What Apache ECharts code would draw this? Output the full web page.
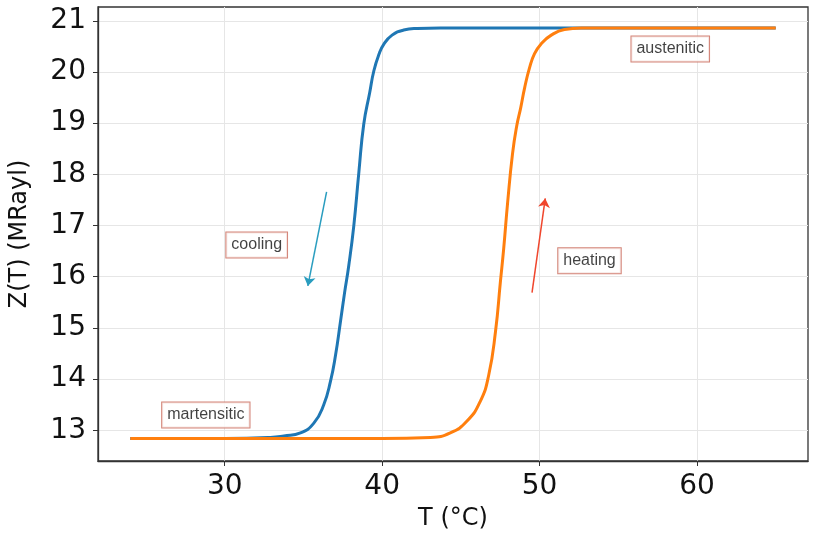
<!DOCTYPE html>
<html>
<head>
<meta charset="utf-8">
<script src="https://cdn.jsdelivr.net/npm/echarts@6/dist/echarts.min.js"></script>
<style>
  body { margin: 0; background: #fff; }
  #chart { width: 817px; height: 544px; }
</style>
</head>
<body>
<div id="chart"></div>
<script>
// cooling curve (blue)
const coolT = [24, 30, 32.9, 33.76, 34.81, 35.66, 36.29, 36.72, 37.04, 37.35, 37.6, 37.88, 38.2, 38.52, 38.83, 39.21, 39.47, 39.79, 40.1, 40.63, 41.37, 42.22, 43.7, 50, 65]
const coolZ = [12.84, 12.84, 12.86, 12.89, 12.95, 13.14, 13.5, 13.96, 14.47, 15.12, 15.66, 16.22, 17.0, 18.04, 18.98, 19.6, 20.02, 20.34, 20.54, 20.72, 20.82, 20.85, 20.86, 20.86, 20.86]
// heating curve (orange)
const heatT = [24, 40, 43.07, 44.33, 45.39, 46.24, 46.77, 47.2, 47.51, 47.72, 47.97, 48.28, 48.55, 48.8, 49.05, 49.36, 49.68, 50.1, 50.74, 51.58, 52.65, 55, 65]
const heatZ = [12.84, 12.84, 12.86, 12.95, 13.18, 13.57, 14.08, 14.93, 15.9, 16.55, 17.45, 18.4, 18.95, 19.3, 19.69, 20.08, 20.36, 20.55, 20.72, 20.83, 20.86, 20.86, 20.86]

const xTicks = [30, 40, 50, 60]
const yTicks = [13, 14, 15, 16, 17, 18, 19, 20, 21]

// text boxes: [T, Z, text]
const notes = [
  [32.03, 16.62, 'cooling'],
  [53.17, 16.31, 'heating'],
  [58.3, 20.45, 'austenitic'],
  [28.8, 13.3, 'martensitic']
]
// arrows: from -> to
const coolArrow = [[36.47, 17.66], [35.28, 15.82]]
const heatArrow = [[49.52, 15.69], [50.36, 17.53]]

const zip = (a, b) => a.map((v, i) => [v, b[i]])

let chart = echarts.init(document.getElementById('chart'))
let option = {
  animation: false,
  grid: {
    left: 95, right: 9, top: 7, bottom: 83,
    show: true, borderColor: '#333', borderWidth: 1.3
  },
  xAxis: {
    type: 'value',
    min: 21.95,
    max: 67.05,
    name: 'T (°C)',
    nameLocation: 'middle',
    nameGap: 46,
    nameTextStyle: { fontFamily: 'DejaVu Sans', fontSize: 24, color: '#111' },
    axisLine: { lineStyle: { color: '#333', width: 1.3 } },
    axisTick: { customValues: xTicks, length: 5, lineStyle: { color: '#333' } },
    axisLabel: { customValues: xTicks, margin: 12, fontFamily: 'DejaVu Sans', fontSize: 28, color: '#111' },
    splitLine: { show: true, lineStyle: { color: '#e6e6e6', width: 1 } }
  },
  yAxis: {
    type: 'value',
    min: 12.4,
    max: 21.27,
    splitNumber: 9,
    name: 'Z(T) (MRayl)',
    nameLocation: 'middle',
    nameGap: 66,
    nameTextStyle: { fontFamily: 'DejaVu Sans', fontSize: 24, color: '#111' },
    axisLine: { show: true, lineStyle: { color: '#333', width: 1.3 } },
    axisTick: { show: true, customValues: yTicks, length: 5, lineStyle: { color: '#333' } },
    axisLabel: { customValues: yTicks, margin: 12, fontFamily: 'DejaVu Sans', fontSize: 28, color: '#111' },
    splitLine: { show: true, lineStyle: { color: '#e6e6e6', width: 1 } }
  },
  series: [
    {
      type: 'line',
      data: zip(coolT, coolZ),
      showSymbol: false,
      smooth: 0.5,
      lineStyle: { color: '#1f77b4', width: 3 },
      z: 3
    },
    {
      type: 'line',
      data: zip(heatT, heatZ),
      showSymbol: false,
      smooth: 0.5,
      lineStyle: { color: '#ff7f0e', width: 3 },
      z: 4
    },
    {
      type: 'lines',
      coordinateSystem: 'cartesian2d',
      symbol: ['none', 'arrow'],
      symbolSize: 9,
      lineStyle: { width: 1.5, opacity: 1, curveness: 0 },
      data: [
        { coords: coolArrow, lineStyle: { color: '#2a9dbf' } },
        { coords: heatArrow, lineStyle: { color: '#f0462d' } }
      ],
      z: 5
    },
    {
      type: 'scatter',
      symbolSize: 0,
      data: notes.map(n => ({ value: [n[0], n[1]], name: n[2] })),
      label: {
        show: true,
        position: 'inside',
        formatter: p => p.name,
        fontFamily: 'Liberation Sans',
        fontSize: 16,
        color: '#111',
        backgroundColor: '#fff',
        borderColor: '#c86555',
        borderWidth: 1,
        padding: [5, 5, 4, 5]
      },
      z: 6
    }
  ]
}
chart.setOption(option)
</script>
</body>
</html>
